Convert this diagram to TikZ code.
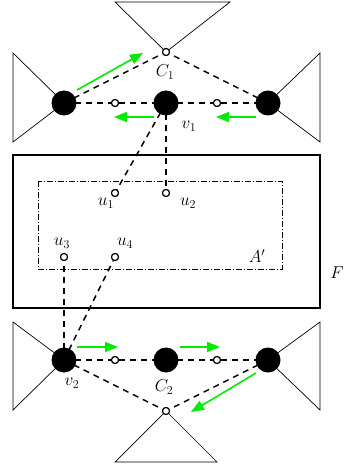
\documentclass[tikz,border=0pt]{standalone}
\usetikzlibrary{arrows.meta}
\definecolor{brightgreen}{RGB}{0,235,0}
\begin{document}
\begin{tikzpicture}[x=1pt,y=-1pt,
  bignode/.style={circle,fill=black,inner sep=0pt,minimum size=25pt},
  smallnode/.style={circle,draw=black,fill=white,line width=1.1pt,inner sep=0pt,minimum size=7pt},
  conn/.style={line width=1.5pt,dash pattern=on 6pt off 5pt},
  tri/.style={line width=0.7pt},
  garrow/.style={brightgreen,line width=1.6pt,-{Triangle[length=13pt,width=10pt]}},
  lab/.style={font=\fontsize{17.5}{20}\selectfont,inner sep=0pt}]
\useasboundingbox (0,0) rectangle (345,470);
% triangles
\draw[tri] (115,2) -- (230,2) -- (166,52) -- cycle;
\draw[tri] (13,53) -- (13,142) -- (64,103) -- cycle;
\draw[tri] (320,53) -- (320,142) -- (268,103) -- cycle;
\draw[tri] (13,322) -- (13,410) -- (64,360) -- cycle;
\draw[tri] (320,322) -- (320,410) -- (268,360) -- cycle;
\draw[tri] (115,462) -- (217,462) -- (166,411) -- cycle;
% rectangles
\draw[line width=1.6pt] (13,155) rectangle (320,308);
\draw[line width=0.6pt,dash pattern=on 6pt off 2pt on 1pt off 2pt] (38,181) rectangle (282,269);
% coordinates of nodes
\coordinate (pa) at (64,103);
\coordinate (pc) at (166,103);
\coordinate (pb) at (268,103);
\coordinate (qa) at (64,360);
\coordinate (qc) at (166,360);
\coordinate (qb) at (268,360);
% small nodes
\node[smallnode] (t1) at (166,52) {};
\node[smallnode] (h1) at (115,103) {};
\node[smallnode] (h2) at (217,103) {};
\node[smallnode] (u1) at (115,193) {};
\node[smallnode] (u2) at (166,193) {};
\node[smallnode] (u3) at (64,257) {};
\node[smallnode] (u4) at (115,257) {};
\node[smallnode] (k1) at (115,360) {};
\node[smallnode] (k2) at (217,360) {};
\node[smallnode] (t2) at (166,411) {};
% dashed connectors
\draw[conn] (pa) -- (t1);
\draw[conn] (pb) -- (t1);
\draw[conn] (pa) -- (h1);
\draw[conn] (h1) -- (pc);
\draw[conn] (pc) -- (h2);
\draw[conn] (h2) -- (pb);
\draw[conn] (pc) -- (u1);
\draw[conn] (pc) -- (u2);
\draw[conn] (qa) -- (u3);
\draw[conn] (qa) -- (u4);
\draw[conn] (qa) -- (k1);
\draw[conn] (k1) -- (qc);
\draw[conn] (qc) -- (k2);
\draw[conn] (k2) -- (qb);
\draw[conn] (qa) -- (t2);
\draw[conn] (qb) -- (t2);
% redraw small nodes on top
\foreach \p in {{166,52},{115,103},{217,103},{115,193},{166,193},{64,257},{115,257},{115,360},{217,360},{166,411}}
  \node[smallnode] at (\p) {};
% big nodes
\node[bignode] (a1) at (pa) {};
\node[bignode] (c1) at (pc) {};
\node[bignode] (b1) at (pb) {};
\node[bignode] (a2) at (qa) {};
\node[bignode] (c2) at (qc) {};
\node[bignode] (b2) at (qb) {};
% labels
\node[lab] (lC1) at (165,72) {$C_1$};
\node[lab] (lv1) at (189,126) {$v_1$};
\node[lab] (lu1) at (106,203) {$u_1$};
\node[lab] (lu2) at (188,203) {$u_2$};
\node[lab] (lu3) at (62,243) {$u_3$};
\node[lab] (lu4) at (125,243) {$u_4$};
\node[lab] (lA) at (257,256) {$A'$};
\node[lab] (lF) at (337,273) {$F$};
\node[lab] (lv2) at (72,383) {$v_2$};
\node[lab] (lC2) at (164,387) {$C_2$};
% green arrows
\coordinate (g1s) at (77,90);   \coordinate (g1e) at (143,53);
\coordinate (g2s) at (154,117); \coordinate (g2e) at (114,117);
\coordinate (g3s) at (256,117); \coordinate (g3e) at (216,117);
\coordinate (g4s) at (77,347);  \coordinate (g4e) at (118,347);
\coordinate (g5s) at (180,347); \coordinate (g5e) at (220,347);
\coordinate (g6s) at (256,373); \coordinate (g6e) at (191,412);
\draw[garrow] (g1s) -- (g1e);
\draw[garrow] (g2s) -- (g2e);
\draw[garrow] (g3s) -- (g3e);
\draw[garrow] (g4s) -- (g4e);
\draw[garrow] (g5s) -- (g5e);
\draw[garrow] (g6s) -- (g6e);
\end{tikzpicture}
\end{document}
